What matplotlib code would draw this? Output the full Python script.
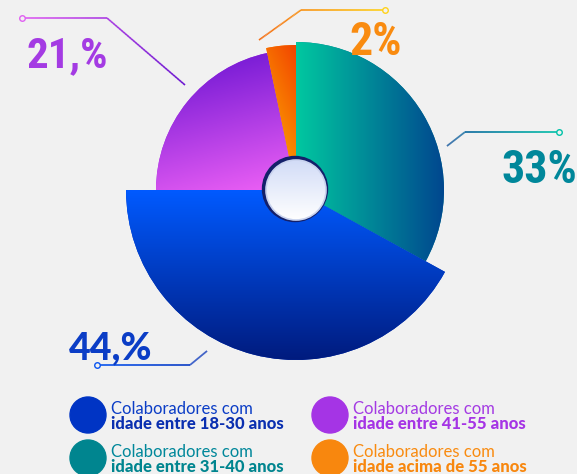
import numpy as np
import matplotlib
matplotlib.use("Agg")
import matplotlib.pyplot as plt
from matplotlib.patches import Circle
from matplotlib.collections import LineCollection
from matplotlib.colors import to_rgb

# data
groups = ["idade entre 18-30 anos", "idade entre 31-40 anos",
          "idade entre 41-55 anos", "idade acima de 55 anos"]
value_labels = ["44,%", "33%", "21,%", "2%"]
# slice sizes as drawn in the picture (degrees measured -> %)
shares = [42, 33, 21.7, 3.3]
legend_top = "Colaboradores com"

# pie order clockwise from 12 o'clock: 31-40, 18-30, 41-55, 55+
pie_order = [1, 0, 2, 3]
radii = {0: 170, 1: 148, 2: 140, 3: 145}
grads = {0: ("#005aff", "#001b7e", -90),
         1: ("#00c8a0", "#00468f", 0),
         2: ("#6410d0", "#f062f6", -75),
         3: ("#f24400", "#ffbe00", -115)}
solid = ["#0034c4", "#00858f", "#a534e5", "#f8870e"]
text_col = ["#0b3dc6", "#00879a", "#a43be3", "#f98b10"]

W, H = 577, 474
cx, cy = 296, 284

fig = plt.figure(figsize=(W / 100, H / 100), dpi=100)
fig.patch.set_facecolor("#f1f1f1")
ax = fig.add_axes([0, 0, 1, 1])
ax.set_facecolor("#f1f1f1")


def grad_fill(patch, c1, c2, angle):
    path = patch.get_patch_transform().transform_path(patch.get_path())
    bb = path.get_extents()
    n = 200
    xs, ys = np.meshgrid(np.linspace(0, 1, n), np.linspace(1, 0, n))
    a = np.deg2rad(angle)
    t = (xs - 0.5) * np.cos(a) + (ys - 0.5) * np.sin(a)
    t = (t - t.min()) / (t.max() - t.min())
    c1, c2 = np.array(to_rgb(c1)), np.array(to_rgb(c2))
    img = c1 + t[..., None] * (c2 - c1)
    im = ax.imshow(img, extent=(bb.x0, bb.x1, bb.y0, bb.y1), origin="upper",
                   interpolation="bilinear", zorder=patch.get_zorder())
    im.set_clip_path(patch)


def grad_line(xs, ys, c1, c2, end):
    # split the polyline into short pieces, colour by distance along it
    pts = []
    for k in range(len(xs) - 1):
        s = np.linspace(0, 1, 40)
        seg = np.column_stack([xs[k] + s * (xs[k + 1] - xs[k]),
                               ys[k] + s * (ys[k + 1] - ys[k])])
        pts.append(seg if k == 0 else seg[1:])
    pts = np.vstack(pts)
    d = np.r_[0, np.cumsum(np.hypot(*np.diff(pts, axis=0).T))]
    t = (d[:-1] + d[1:]) / 2 / d[-1]
    a, b = np.array(to_rgb(c1)), np.array(to_rgb(c2))
    cols = a + t[:, None] * (b - a)
    segs = np.stack([pts[:-1], pts[1:]], axis=1)
    ax.add_collection(LineCollection(segs, colors=cols, lw=1.2, zorder=3))
    mc = c1 if end == 0 else c2
    ax.plot(xs[end], ys[end], "o", ms=4, mfc="#f1f1f1", mec=mc, mew=1,
            zorder=3)


vals = [shares[i] for i in pie_order]
wedges, _ = ax.pie(vals, startangle=90, counterclock=False,
                   center=(cx, cy), radius=1, frame=True)
for w, i in zip(wedges, pie_order):
    w.set_radius(radii[i])
    w.set_facecolor(solid[i])
    w.set_zorder(2)
    c1, c2, ang = grads[i]
    grad_fill(w, c1, c2, ang)

# center hub
ax.add_patch(Circle((cx - 1, cy + 1), 32.5, color="#14206a", zorder=4))
hub = Circle((cx, cy), 30, facecolor="#ffffff", lw=0, zorder=5)
ax.add_patch(hub)
grad_fill(hub, "#d2dcf7", "#ffffff", -90)
ax.add_patch(Circle((cx, cy), 30, facecolor="none", edgecolor="#c9d3ee",
                    lw=1.2, zorder=6))

# leader lines (y up)
grad_line([22, 107, 185], [456, 456, 389], "#e060f2", "#6a14d0", 0)
grad_line([259, 301, 385], [434, 464, 464], "#f56a10", "#ffd21a", -1)
grad_line([447, 465, 559], [328, 342, 342], "#0a4f9a", "#00c2a8", -1)
grad_line([207, 190, 97], [123, 109, 109], "#0a34b8", "#0a55f0", -1)

narrow = ["Liberation Sans Narrow", "Roboto Condensed", "Roboto"]
ax.text(27, 407, value_labels[2], color=text_col[2], fontsize=31,
        fontweight="bold", family=narrow, ha="left", va="baseline")
ax.text(349, 419, value_labels[3], color=text_col[3], fontsize=33,
        fontweight="bold", family=narrow, ha="left", va="baseline")
ax.text(577, 291, value_labels[1], color=text_col[1], fontsize=33,
        fontweight="bold", family=narrow, ha="right", va="baseline")
ax.text(69, 115, value_labels[0], color=text_col[0], fontsize=27,
        fontweight="black", family=["Lato", "DejaVu Sans"], ha="left",
        va="baseline")

# legend
spots = {0: (88, 59), 1: (88, 16), 2: (330, 59), 3: (330, 16)}
for i, (x, y) in spots.items():
    ax.add_patch(Circle((x, y), 18, color=solid[i], zorder=3))
    ax.text(x + 23, y + 1, legend_top, color=text_col[i], fontsize=12,
            fontweight="normal", family=["Lato", "DejaVu Sans"],
            ha="left", va="baseline")
    ax.text(x + 23, y - 14, groups[i], color=solid[i] if i else "#0a2fb0",
            fontsize=12, fontweight="black", family=["Lato", "DejaVu Sans"],
            ha="left", va="baseline")

ax.set_xlim(0, W)
ax.set_ylim(0, H)
ax.set_aspect("auto")
ax.axis("off")
fig.savefig("out.png", dpi=100, facecolor=fig.get_facecolor())
